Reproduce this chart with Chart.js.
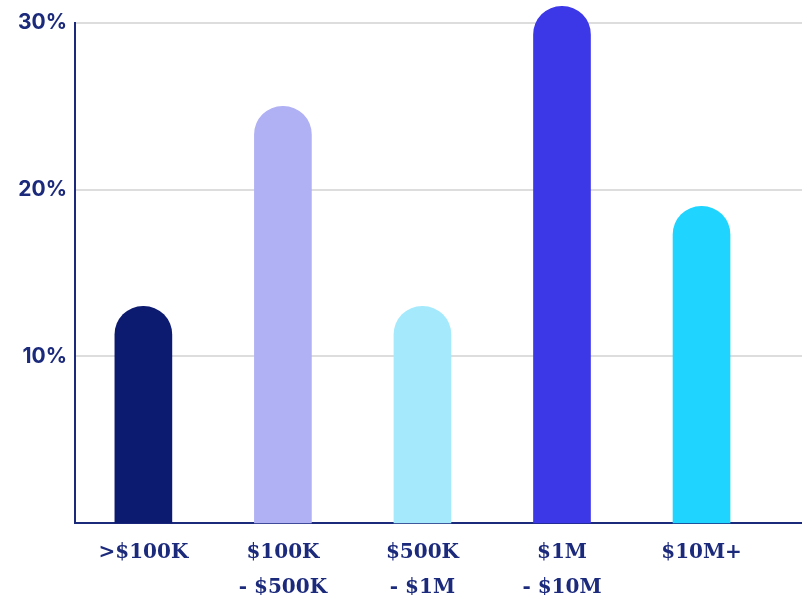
<!DOCTYPE html>
<html>
<head>
<meta charset="utf-8">
<script src="https://cdn.jsdelivr.net/npm/chart.js@4/dist/chart.umd.min.js"></script>
<style>
  html, body { margin: 0; padding: 0; background: #ffffff; overflow: hidden; }
  #wrap { width: 802px; height: 595px; }
</style>
</head>
<body>
<div id="wrap"><canvas id="chart" width="802" height="595"></canvas></div>
<script>
// revenue bands (x labels, one array per label line)
const categories = [
  [">$100K"],
  ["$100K", "- $500K"],
  ["$500K", "- $1M"],
  ["$1M", "- $10M"],
  ["$10M+"],
];
// share of respondents, %
const shares = [13, 25, 13, 31, 19];
const yTicks = [10, 20, 30];
const barColors = ["#0c1a70", "#b0b0f5", "#a5eafc", "#3c38e8", "#1fd4fe"];

const navy = "#1c2a7c";

const points = shares.map((v, i) => ({ x: i, y: v }));

new Chart(document.getElementById("chart"), {
  type: "bar",
  data: {
    datasets: [
      {
        data: points,
        backgroundColor: barColors,
        borderWidth: 0,
        borderRadius: 40,
        borderSkipped: "start",
        barThickness: 57,
        clip: false,
      },
    ],
  },
  options: {
    responsive: false,
    animation: false,
    devicePixelRatio: 1,
    layout: { padding: { top: 23, right: 0, left: 0, bottom: 0 } },
    plugins: {
      legend: { display: false },
      tooltip: { enabled: false },
    },
    scales: {
      x: {
        type: "linear",
        offset: false,
        min: -0.49,
        max: 4.72,
        grid: { display: false, drawTicks: false },
        border: { display: true, color: navy, width: 2 },
        afterBuildTicks: (scale) => {
          scale.ticks = categories.map((_, i) => ({ value: i }));
        },
        afterFit: (scale) => {
          scale.height = 72;
        },
        ticks: {
          autoSkip: false,
          maxRotation: 0,
          padding: 13,
          color: navy,
          font: { family: "DejaVu Serif", weight: "bold", size: 20, lineHeight: 1.72 },
          callback: (value) => categories[value] || "",
        },
      },
      y: {
        min: 0,
        max: 30,
        grid: { color: "#dddddd", lineWidth: 2, drawTicks: false },
        border: { display: true, color: navy, width: 2 },
        afterBuildTicks: (scale) => {
          scale.ticks = yTicks.map((v) => ({ value: v }));
        },
        afterFit: (scale) => {
          scale.width = 75;
        },
        ticks: {
          padding: 8,
          color: navy,
          font: { family: "Inter", weight: "bold", size: 21 },
          callback: (value) => value + "%",
        },
      },
    },
  },
});
</script>
</body>
</html>
